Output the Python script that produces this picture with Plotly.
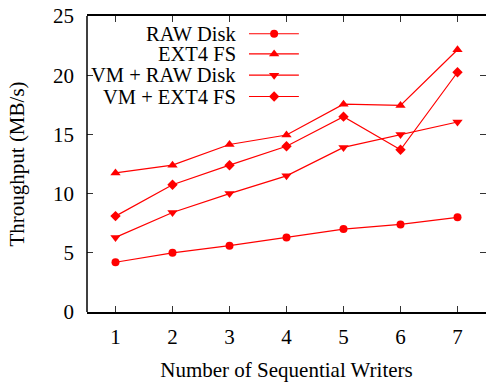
import plotly.graph_objects as go

writers = [1, 2, 3, 4, 5, 6, 7]
raw_disk = [4.2, 5.0, 5.6, 6.3, 7.0, 7.4, 8.0]
ext4_fs = [11.75, 12.4, 14.15, 14.95, 17.55, 17.45, 22.15]
vm_raw_disk = [6.3, 8.4, 10.0, 11.5, 13.9, 15.0, 16.05]
vm_ext4_fs = [8.1, 10.75, 12.4, 14.0, 16.5, 13.7, 20.25]

series_names = ["RAW Disk", "EXT4 FS", "VM + RAW Disk", "VM + EXT4 FS"]
series_values = [raw_disk, ext4_fs, vm_raw_disk, vm_ext4_fs]
symbols = ["circle", "triangle-up", "triangle-down", "diamond"]
sizes = [8, 9, 9, 8]

x_ticks = [1, 2, 3, 4, 5, 6, 7]
y_ticks = [0, 5, 10, 15, 20, 25]

RED = "#ff0000"
FONT = "Liberation Serif"
TXT = dict(family=FONT, size=21, color="black")

fig = go.Figure()
for name, vals, sym, sz in zip(series_names, series_values, symbols, sizes):
    fig.add_trace(go.Scatter(
        x=writers, y=vals, mode="lines+markers", name=name,
        line=dict(color=RED, width=1.2),
        marker=dict(symbol=sym, size=sz, color=RED),
        showlegend=False,
    ))

# gnuplot-style key: text right-aligned, sample line + marker to the right
key_rows = [0.94, 0.872, 0.800, 0.728]
key_x0, key_xm, key_x1 = 0.406, 0.469, 0.531
key_text_x = 0.376
for name, sym, sz, ky in zip(series_names, symbols, sizes, key_rows):
    fig.add_trace(go.Scatter(
        x=[key_x0, key_x1], y=[ky, ky], mode="lines",
        line=dict(color=RED, width=1.2), xaxis="x2", yaxis="y2",
        showlegend=False, hoverinfo="skip",
    ))
    fig.add_trace(go.Scatter(
        x=[key_xm], y=[ky], mode="markers",
        marker=dict(symbol=sym, size=sz, color=RED), xaxis="x2", yaxis="y2",
        showlegend=False, hoverinfo="skip",
    ))
    fig.add_annotation(
        x=key_text_x, y=ky, xref="paper", yref="paper", text=name,
        showarrow=False, xanchor="right", yanchor="middle", borderpad=0,
        font=dict(family=FONT, size=20.5, color="black"),
    )

fig.add_shape(type="line", xref="paper", yref="paper", x0=0, x1=0, y0=0, y1=1,
              line=dict(color="black", width=1.5))

fig.update_layout(
    width=486, height=383,
    margin=dict(l=87, r=0, t=16, b=71),
    paper_bgcolor="white", plot_bgcolor="white",
    font=TXT,
    xaxis=dict(
        range=[0.5, 7.5], tickvals=x_ticks, ticks="inside", ticklen=6,
        tickcolor="#333", tickwidth=1, showline=True, linecolor="black",
        linewidth=1.5, mirror="ticks", showgrid=False, zeroline=False,
        tickfont=TXT,
        title=dict(text="Number of Sequential Writers", standoff=14, font=TXT),
        ticklabelstandoff=5,
    ),
    yaxis=dict(
        range=[0, 25], tickvals=y_ticks, ticks="inside", ticklen=6,
        tickcolor="#333", tickwidth=1, showline=False, mirror="ticks",
        showgrid=False, zeroline=False,
        tickfont=TXT,
        title=dict(text="Throughput (MB/s)", standoff=22, font=TXT),
        ticklabelstandoff=12,
    ),
    xaxis2=dict(range=[0, 1], overlaying="x", visible=False, fixedrange=True),
    yaxis2=dict(range=[0, 1], overlaying="y", visible=False, fixedrange=True),
)

fig.write_html("out.html")
